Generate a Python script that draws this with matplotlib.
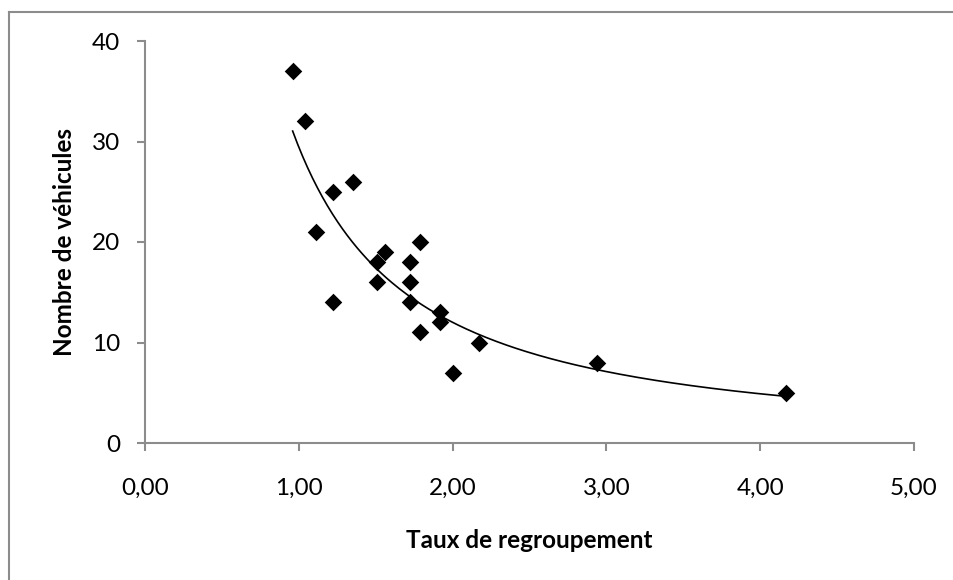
import numpy as np
import matplotlib
matplotlib.use("Agg")
import matplotlib.pyplot as plt
from matplotlib.lines import Line2D

plt.rcParams['font.family'] = ['Lato', 'DejaVu Sans']

# Data
taux = [0.96, 1.04, 1.11, 1.22, 1.22, 1.35, 1.51, 1.51, 1.56, 1.72, 1.72, 1.72,
        1.79, 1.79, 1.92, 1.92, 2.00, 2.17, 2.94, 4.17]
vehicules = [37, 32, 21, 25, 14, 26, 18, 16, 19, 18, 16, 14,
             20, 11, 13, 12, 7, 10, 8, 5]

x_ticks = [0, 1, 2, 3, 4, 5]
x_tick_labels = ["0,00", "1,00", "2,00", "3,00", "4,00", "5,00"]
y_ticks = [0, 10, 20, 30, 40]

W, H = 954, 580
fig = plt.figure(figsize=(W / 100, H / 100), dpi=100)
ax = fig.add_axes([145 / W, 1 - 443 / H, (914 - 145) / W, (443 - 41) / H])

# Outer chart frame (left and top visible)
gray = "#8c8c8c"
fig.add_artist(Line2D([9 / W, 9 / W], [0, 1 - 12 / H], transform=fig.transFigure,
                      color=gray, lw=1.5))
fig.add_artist(Line2D([9 / W, 1], [1 - 12 / H, 1 - 12 / H], transform=fig.transFigure,
                      color=gray, lw=1.5))

ax.scatter(taux, vehicules, marker='D', s=80, color='black', zorder=3, linewidths=0)

# Power trendline (least squares on logs, like Excel)
xs = np.array(taux)
ys = np.array(vehicules)
b, loga = np.polyfit(np.log(xs), np.log(ys), 1)
xt = np.linspace(xs.min(), xs.max(), 200)
ax.plot(xt, np.exp(loga) * xt ** b, color='black', lw=1.2, zorder=2)

ax.set_xlim(0, 5)
ax.set_ylim(0, 40)
ax.set_xticks(x_ticks)
ax.set_xticklabels(x_tick_labels)
ax.set_yticks(y_ticks)

for s in ['top', 'right']:
    ax.spines[s].set_visible(False)
for s in ['left', 'bottom']:
    ax.spines[s].set_color(gray)
    ax.spines[s].set_linewidth(1.5)
ax.tick_params(axis='both', direction='out', length=6, width=1.5, color=gray,
               labelsize=17.5, labelcolor='black')
ax.tick_params(axis='x', pad=19)
ax.tick_params(axis='y', pad=12)

ax.set_xlabel("Taux de regroupement", fontsize=17.5, fontweight='bold', labelpad=22)
ax.set_ylabel("Nombre de véhicules", fontsize=17.5, fontweight='bold', labelpad=11)

fig.savefig("out.png", dpi=100, facecolor='white')
